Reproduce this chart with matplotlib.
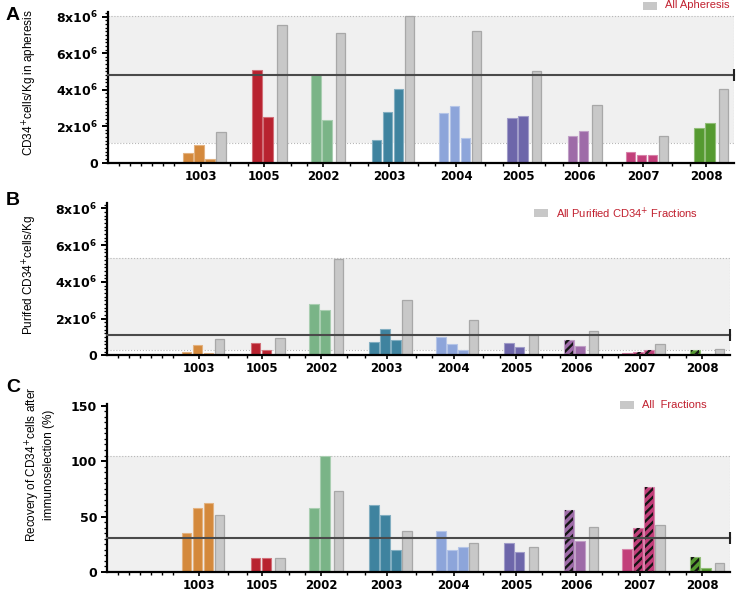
import numpy as np
import matplotlib.pyplot as plt
import matplotlib.colors as mcolors
from matplotlib.ticker import MultipleLocator, FixedLocator

# patients / groups
groups = ['1003', '1005', '2002', '2003', '2004', '2005', '2006', '2007', '2008']
group_colors = ['#D4893C', '#B8222F', '#7AB487', '#3F839F', '#8DA5DA',
                '#6D66AA', '#9E6BA8', '#C23F7A', '#559A30']

# A: CD34+ cells/Kg in apheresis (x1e6)
apheresis_ind = [[0.52, 0.99, 0.20], [5.08, 2.51], [4.81, 2.34], [1.24, 2.76, 4.06],
                 [2.72, 3.11, 1.37], [2.47, 2.56], [1.46, 1.74], [0.59, 0.44, 0.41],
                 [1.92, 2.16]]
apheresis_all = [1.70, 7.56, 7.11, 8.05, 7.22, 5.03, 3.18, 1.45, 4.06]
apheresis_mean = 4.80
apheresis_band = (1.10, 8.05)

# B: purified CD34+ cells/Kg (x1e6)
purified_ind = [[0.19, 0.59, 0.14], [0.68, 0.32], [2.80, 2.47], [0.75, 1.42, 0.84],
                [1.02, 0.63, 0.30], [0.66, 0.48], [0.83, 0.52], [0.12, 0.19, 0.30],
                [0.28, 0.08]]
purified_all = [0.88, 0.97, 5.24, 3.02, 1.95, 1.11, 1.32, 0.61, 0.35]
purified_mean = 1.11
purified_band = (0.30, 5.30)

# C: recovery after immunoselection (%)
recovery_ind = [[35.2, 57.8, 62.6], [12.7, 12.7], [58.0, 104.8], [60.2, 51.2, 20.2],
                [36.7, 19.6, 22.6], [26.5, 18.1], [56.0, 28.0], [20.8, 39.4, 77.0],
                [13.6, 3.3]]
recovery_all = [51.5, 12.7, 73.2, 36.7, 26.5, 22.3, 40.7, 42.5, 8.1]
recovery_mean = 31.0
recovery_band = (0.0, 104.8)

# hatched fractions (panels B and C)
hatched = [[False] * 3, [False] * 2, [False] * 2, [False] * 3, [False] * 3,
           [False] * 2, [True, False], [False, True, True], [True, False]]

# layout (slot units)
group_start = [7.27, 13.55, 18.9, 24.4, 30.5, 36.7, 42.2, 47.5, 53.7]
XMAX = 56.9
W = 0.86

plt.rcParams['hatch.linewidth'] = 1.7


def lighter(c, f=0.35):
    r, g, b = mcolors.to_rgb(c)
    return (r + (1 - r) * f, g + (1 - g) * f, b + (1 - b) * f)


def draw_panel(ax, ind, alls, mean, band, ymax, use_hatch):
    lo, hi = band
    ax.fill_between([0, XMAX], lo, hi, color='#f0f0f0', lw=0, zorder=0)
    ax.plot([0, XMAX], [hi, hi], ls=':', color='#b8b8b8', lw=0.8, zorder=0.5)
    if lo > 0:
        ax.plot([0, XMAX], [lo, lo], ls=':', color='#b8b8b8', lw=0.8, zorder=0.5)
    ax.plot([XMAX, XMAX], [lo, hi], ls=':', color='#b8b8b8', lw=0.8, zorder=0.5)

    label_pos = []
    minor = list(np.arange(1, 7))
    prev_end = None
    for g, vals in enumerate(ind):
        n = len(vals)
        xs = [group_start[g] + i for i in range(n)]
        gx = xs[-1] + (1.0 if n == 3 else 1.25)
        col = group_colors[g]
        ax.bar(xs, vals, width=W, color=col, edgecolor=lighter(col), lw=0.8, zorder=2)
        if use_hatch:
            for x, v, h in zip(xs, vals, hatched[g]):
                if h:
                    ax.bar(x, v, width=W * 0.82, facecolor='none', edgecolor='#151515',
                           hatch='////', lw=0, zorder=3)
        ax.bar(gx, alls[g], width=W, color='#c8c8c8', edgecolor='#a8a8a8', lw=0.9, zorder=2)
        label_pos.append(np.mean(xs) + 0.15)
        if prev_end is not None:
            minor += [prev_end + 0.8, xs[0] - 0.8]
        prev_end = gx

    ax.plot([0, XMAX], [mean, mean], color='#4a4a4a', lw=1.5, zorder=4, clip_on=False)
    ax.plot([XMAX], [mean], marker='|', ms=8, mew=1.5, color='#222222', zorder=4, clip_on=False)

    ax.set_xlim(0, XMAX)
    ax.set_ylim(0, ymax)
    ax.set_xticks(label_pos)
    ax.set_xticklabels(groups, fontsize=8.5, fontweight='bold', family='DejaVu Sans')
    ax.xaxis.set_minor_locator(FixedLocator(minor))
    ax.tick_params(axis='x', which='major', length=3, width=1.2, pad=2)
    ax.tick_params(axis='x', which='minor', length=2.5, width=1.0)
    ax.tick_params(axis='y', which='major', length=4, width=1.4, pad=3)
    ax.tick_params(axis='y', which='minor', length=2, width=0.9)
    for s in ['top', 'right']:
        ax.spines[s].set_visible(False)
    for s in ['left', 'bottom']:
        ax.spines[s].set_linewidth(1.6)
    ax.set_facecolor('none')


fig = plt.figure(figsize=(7.43, 5.92), dpi=100)
axA = fig.add_axes([0.1454, 0.7252, 0.8425, 0.2546])
axB = fig.add_axes([0.1440, 0.3995, 0.8385, 0.2576])
axC = fig.add_axes([0.1440, 0.0338, 0.8385, 0.2838])

e6 = [0, 2, 4, 6, 8]
e6_labels = ['0'] + [r'$\mathbf{%dx10^{6}}$' % v for v in e6[1:]]

draw_panel(axA, [[v * 1e6 for v in g] for g in apheresis_ind],
           [v * 1e6 for v in apheresis_all], apheresis_mean * 1e6,
           (apheresis_band[0] * 1e6, apheresis_band[1] * 1e6), 8.26e6, False)
draw_panel(axB, [[v * 1e6 for v in g] for g in purified_ind],
           [v * 1e6 for v in purified_all], purified_mean * 1e6,
           (purified_band[0] * 1e6, purified_band[1] * 1e6), 8.29e6, True)
draw_panel(axC, recovery_ind, recovery_all, recovery_mean, recovery_band, 151.5, True)

for ax in (axA, axB):
    ax.set_yticks([v * 1e6 for v in e6])
    ax.set_yticklabels(e6_labels, fontsize=9, fontweight='bold')
    ax.yaxis.set_minor_locator(MultipleLocator(0.2e6))
axC.set_yticks([0, 50, 100, 150])
axC.set_yticklabels(['0', '50', '100', '150'], fontsize=9, fontweight='bold')
axC.yaxis.set_minor_locator(MultipleLocator(5))

lab = dict(fontsize=8.5, family='Liberation Sans')
fig.text(0.040, 0.86, 'CD34$^{+}$cells/Kg in apheresis', rotation=90, ha='center', va='center', **lab)
fig.text(0.040, 0.535, 'Purifed CD34$^{+}$cells/Kg', rotation=90, ha='center', va='center', **lab)
fig.text(0.053, 0.215, 'Recovery of CD34$^{+}$cells after\nimmunoselection (%)', rotation=90,
         ha='center', va='center', linespacing=1.1, **lab)

for t, y in [('A', 0.973), ('B', 0.662), ('C', 0.345)]:
    fig.text(0.008, y, t, fontsize=14, fontweight='bold', family='Liberation Sans', va='center')

# legends
legend_red = '#C1202F'
for sx, sy, tx, txt in [(643, 5.5, 665, 'All Apheresis'),
                        (534, 213, 556, 'All Purified CD34$^{+}$ Fractions'),
                        (620, 405, 642, 'All  Fractions')]:
    fig.patches.append(plt.Rectangle(((sx) / 743, 1 - (sy + 4) / 592), 14 / 743, 8 / 592,
                                     transform=fig.transFigure, facecolor='#c8c8c8',
                                     edgecolor='none'))
    fig.text(tx / 743, 1 - sy / 592, txt, fontsize=8, color=legend_red,
             family='Liberation Sans', va='center', ha='left')

fig.savefig('out.png', dpi=100)
